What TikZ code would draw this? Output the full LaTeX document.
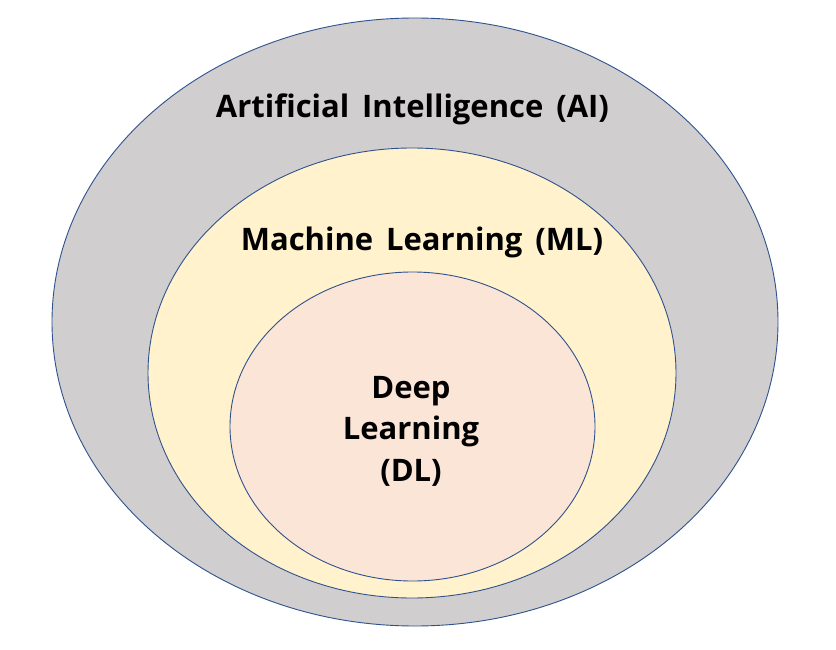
\documentclass[tikz,border=0pt]{standalone}
\usepackage{fontspec}
\setmainfont{Open Sans}[WordSpace=1.6]
\begin{document}
\begin{tikzpicture}[x=1pt,y=-1pt,
  ring/.style={draw=ringblue, line width=0.9pt},
  lbl/.style={font=\bfseries\fontsize{31}{41.5}\selectfont, text=black, inner sep=0pt, align=center}]
\definecolor{ringblue}{HTML}{2F528F}
\definecolor{aigray}{HTML}{D0CECE}
\definecolor{mlyellow}{HTML}{FFF2CC}
\definecolor{dlpink}{HTML}{FBE5D6}
\useasboundingbox (0,0) rectangle (836,650);
\fill[white] (0,0) rectangle (836,650);
\path[ring, fill=aigray] (415,322) ellipse [x radius=363, y radius=304];
\path[ring, fill=mlyellow] (412,373) ellipse [x radius=264, y radius=225];
\path[ring, fill=dlpink] (412.5,426.5) ellipse [x radius=182.5, y radius=154.5];
\node[lbl, anchor=base] (ai) at (412.5,118) {Artificial Intelligence (AI)};
\node[lbl, anchor=base] (ml) at (422,251) {Machine Learning (ML)};
\node[lbl, anchor=base] (dl) at (411,481) {Deep\\Learning\\(DL)};
\end{tikzpicture}
\end{document}
